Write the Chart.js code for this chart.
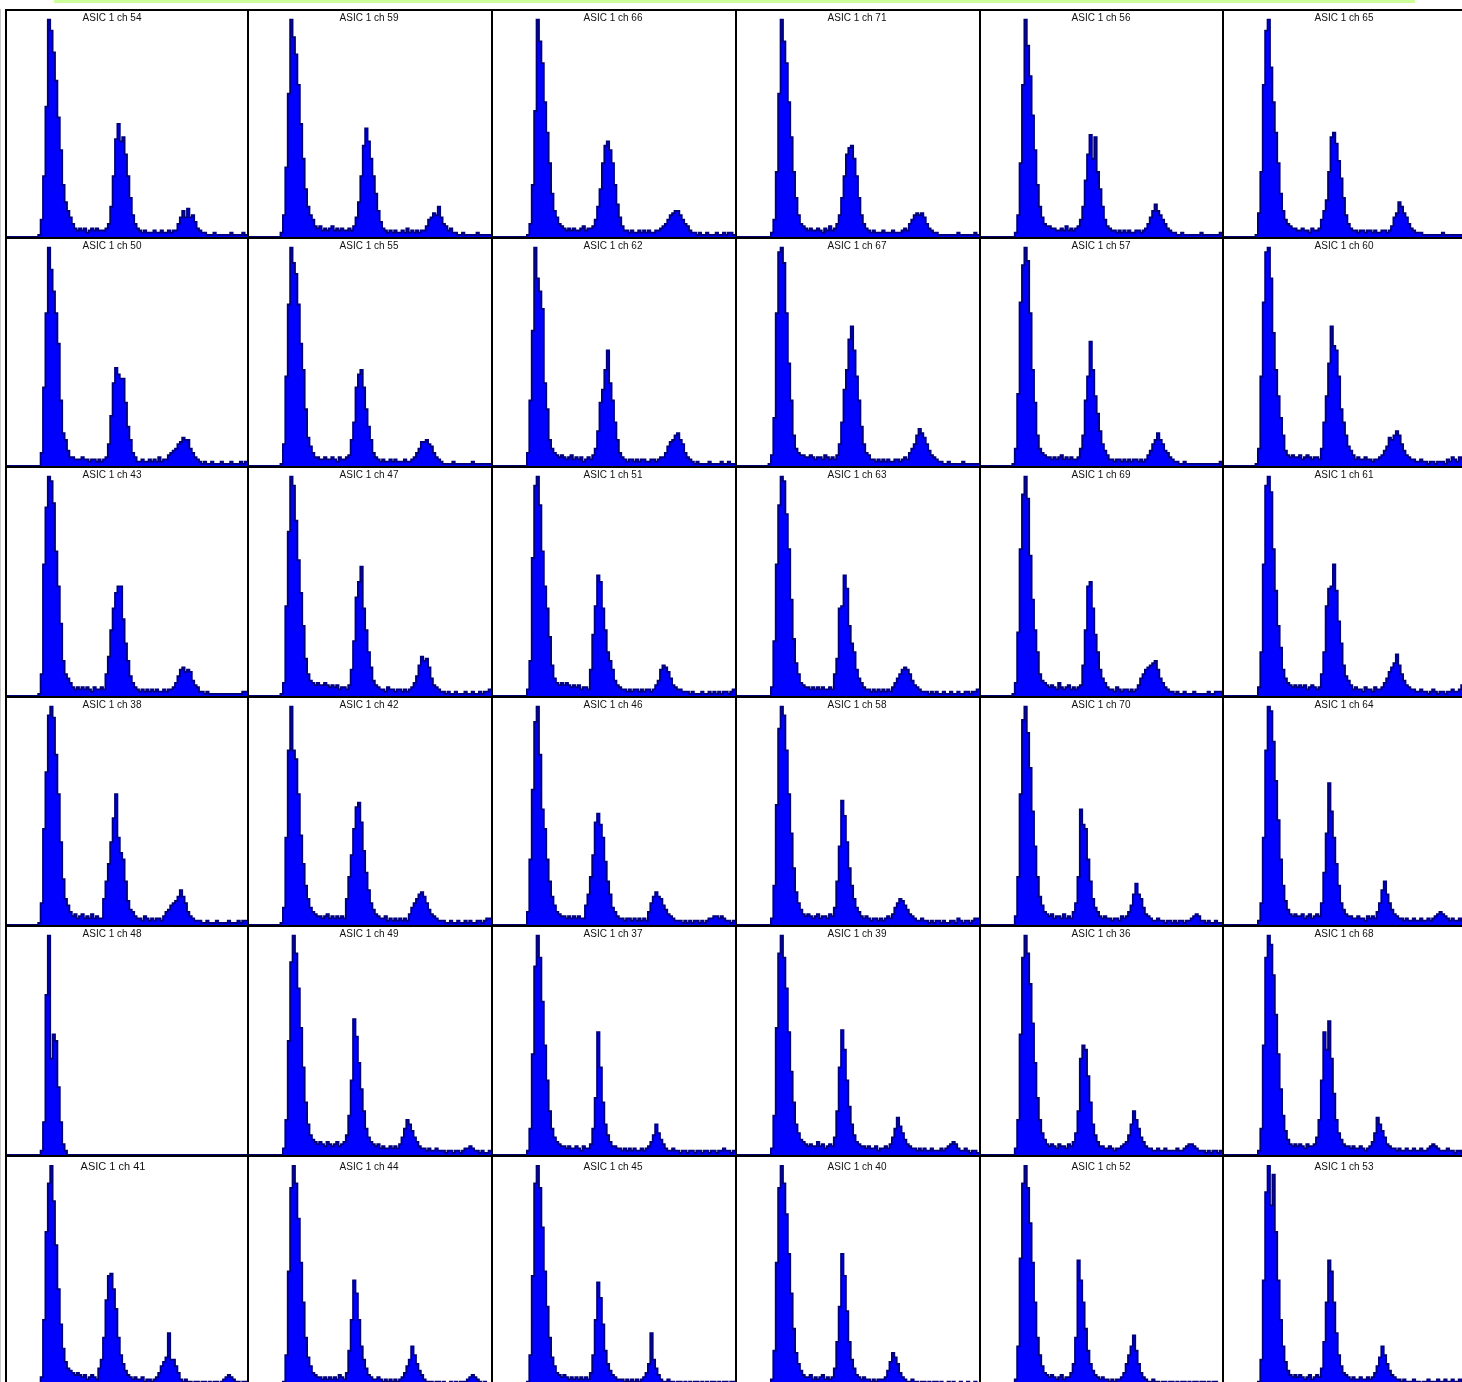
<!DOCTYPE html>
<html>
<head>
<meta charset="utf-8">
<script src="https://cdn.jsdelivr.net/npm/chart.js"></script>
<style>
  body { margin: 0; background: #fff; width: 1462px; height: 1382px; overflow: hidden; position: relative; }
  .topbar { position: absolute; left: 54px; top: 0; width: 1361px; height: 3px; background: #ccff99; }
  .edge { position: absolute; left: 0; top: 9px; width: 1px; height: 1380px; background: #c8c8c8; }
  .panel { position: absolute; box-sizing: border-box; border-left: 2px solid #000; border-top: 2px solid #000; }
  .panel canvas { display: block; }
</style>
</head>
<body>
<div class="topbar"></div>
<div class="edge"></div>
<script>
// counts per bin (100 bins), normalised so the first peak is 100
const ch54 = [0,0,0,0,0,0,0,0,0,0, 0,0,0,1,8,28,60,100,95,85, 72,55,40,24,16,12,9,6,4,3, 4,3,4,2,3,4,3,4,3,3, 3,4,6,14,28,45,52,44,46,38, 28,18,10,6,4,3,2,3,2,2, 2,3,2,2,3,2,2,3,2,3, 3,6,9,12,9,13,9,10,7,4, 3,2,2,1,1,1,2,1,1,1, 1,1,1,2,1,1,1,1,2,1];
const ch59 = [0,0,0,0,0,0,0,0,0,0, 0,0,0,2,10,32,66,100,92,84, 70,52,36,22,14,10,8,5,4,5, 3,4,3,4,5,3,4,3,4,3, 3,4,3,5,9,16,28,42,50,44, 36,28,20,12,7,4,3,2,3,2, 3,2,2,3,2,4,2,3,2,3, 2,3,3,5,8,9,11,10,14,9, 6,5,3,4,2,2,1,1,2,1, 1,1,1,1,2,1,1,1,1,1];
const ch66 = [0,0,0,0,0,0,0,0,0,0, 0,0,0,0,1,6,24,58,100,90, 80,62,48,34,20,12,9,6,5,4, 3,4,3,4,3,3,4,5,3,4, 4,5,8,14,22,34,42,44,40,34, 24,15,9,5,3,3,2,3,2,2, 3,2,3,2,3,2,2,3,3,4, 5,6,8,10,11,12,12,10,8,6, 5,3,2,2,1,2,1,1,2,1, 1,1,2,1,1,2,1,2,2,1];
const ch71 = [0,0,0,0,0,0,0,0,0,0, 0,0,0,0,2,8,30,66,100,90, 80,62,46,30,18,10,6,5,4,3, 4,3,3,4,3,2,4,3,5,3, 4,6,10,18,28,38,41,42,36,28, 18,10,6,4,3,2,3,2,2,2, 3,2,2,2,3,2,2,2,3,4, 3,6,8,10,11,10,11,9,6,4, 3,2,2,1,1,1,1,1,1,1, 1,2,1,1,1,1,1,1,2,1];
const ch56 = [0,0,0,0,0,0,0,0,0,0, 0,0,0,0,2,10,34,70,100,88, 74,56,40,24,14,9,6,5,5,4, 4,3,3,4,3,5,3,4,3,4, 5,8,14,26,38,47,36,46,30,22, 14,8,5,4,3,3,2,3,2,3, 2,3,2,2,3,3,2,3,4,6, 9,12,15,12,10,8,6,4,3,2, 2,1,1,2,1,1,1,1,1,1, 1,2,1,1,1,1,1,1,1,2];
const ch65 = [0,0,0,0,0,0,0,0,0,0, 0,0,0,1,11,30,70,95,100,78, 62,48,34,20,12,8,6,5,4,4, 3,3,4,3,3,2,4,3,3,4, 8,12,17,30,46,48,43,35,27,18, 10,6,4,3,3,2,3,3,2,3, 3,2,3,2,2,3,3,2,3,5, 9,11,16,14,11,9,6,4,3,2, 2,2,1,1,1,1,1,1,1,1, 2,1,1,1,1,1,1,1,1,1];

const ch50 = [0,0,0,0,0,0,0,0,0,0, 0,0,0,0,6,36,70,100,90,80, 70,56,30,15,12,7,4,4,3,3, 3,4,3,3,2,3,3,2,3,2, 3,4,10,23,38,45,42,40,40,29, 18,12,6,4,2,2,3,2,2,3, 2,3,2,4,2,3,3,5,6,7, 8,10,11,13,12,12,8,6,4,3, 2,1,2,1,1,2,1,1,1,2, 1,1,1,2,1,1,1,2,1,2];
const ch55 = [0,0,0,0,0,0,0,0,0,0, 0,0,0,1,10,41,74,100,93,88, 74,56,44,26,13,9,6,4,4,3, 3,4,3,3,4,3,2,4,3,3, 4,5,12,20,36,42,44,36,26,18, 12,6,4,3,2,3,2,2,3,2, 3,2,2,2,3,2,2,3,4,6, 8,11,11,12,10,9,6,4,3,2, 1,1,1,1,2,1,1,1,1,1, 1,1,2,1,1,1,1,1,1,1];
const ch62 = [0,0,0,0,0,0,0,0,0,0, 0,0,0,0,6,30,62,100,86,80, 72,38,26,12,8,6,5,4,5,4, 3,4,5,3,4,3,4,2,3,4, 3,5,8,16,29,35,44,53,38,30, 20,12,6,4,3,2,3,3,2,3, 2,3,3,2,2,3,3,2,3,4, 4,6,9,11,12,14,15,12,10,6, 4,3,2,1,2,1,1,1,1,2, 1,1,1,1,2,1,1,2,1,1];
const ch67 = [0,0,0,0,0,0,0,0,0,0, 0,0,0,1,5,22,70,98,100,93, 70,47,30,14,8,6,5,5,4,4, 5,4,3,4,4,3,5,4,3,4, 3,5,10,20,35,44,58,64,53,41, 30,18,10,6,5,3,3,2,3,2, 3,2,3,2,2,3,3,2,3,4, 3,6,8,10,14,17,15,13,10,7, 5,4,3,2,2,1,1,2,1,1, 1,1,1,2,1,1,1,1,1,1];
const ch57 = [0,0,0,0,0,0,0,0,0,0, 0,0,0,1,8,33,75,92,100,94, 70,44,29,14,8,6,5,4,4,3, 4,3,4,5,3,4,3,4,3,3, 4,8,14,30,41,57,44,32,24,16, 10,7,5,3,3,2,3,3,2,3, 2,3,2,3,3,2,3,2,3,5, 7,10,12,15,12,10,7,6,4,3, 2,2,1,1,2,1,1,1,1,1, 1,1,1,1,1,1,1,1,1,2];
const ch60 = [0,0,0,0,0,0,0,0,0,0, 0,0,0,1,8,41,75,98,100,86, 61,44,32,22,14,7,5,4,5,4, 4,5,3,4,5,4,3,4,4,3, 8,20,32,47,64,55,53,41,26,20, 14,9,7,5,3,4,3,3,4,3, 3,2,3,3,4,5,7,9,13,12, 14,16,14,10,7,5,4,3,3,2, 2,3,2,2,1,2,2,1,2,2, 2,1,3,2,4,3,2,4,3,4];

const ch43 = [0,0,0,0,0,0,0,0,0,0, 0,0,0,1,10,60,86,100,98,88, 66,50,33,16,10,8,6,4,3,4, 3,4,3,4,3,2,4,3,3,4, 3,10,18,30,40,47,50,50,35,24, 16,9,6,4,3,2,3,2,3,2, 3,2,3,2,2,3,2,3,3,4, 6,9,12,13,11,12,11,7,5,4, 2,2,1,2,1,1,1,1,1,1, 1,1,1,1,1,1,1,1,2,2];
const ch47 = [0,0,0,0,0,0,0,0,0,0, 0,0,0,1,6,41,75,100,96,80, 62,47,32,17,10,7,6,5,6,5, 5,6,5,4,5,4,5,3,4,4, 3,5,12,25,45,52,59,40,30,20, 13,7,5,4,3,3,2,4,3,3, 2,3,3,2,3,2,3,4,6,9, 14,18,16,17,13,8,5,4,3,2, 2,1,2,1,1,2,1,1,1,2, 1,1,2,1,1,2,1,2,2,3];
const ch51 = [0,0,0,0,0,0,0,0,0,0, 0,0,0,0,3,16,63,96,100,87, 66,50,40,27,14,8,6,5,6,5, 6,5,4,5,4,5,3,4,4,3, 12,28,41,55,52,40,30,20,16,12, 7,5,4,3,3,2,3,2,3,3, 2,3,2,3,3,2,3,5,7,12, 14,13,11,8,5,4,3,3,2,2, 2,1,2,1,1,1,2,1,1,2, 1,2,1,2,1,2,2,1,2,3];
const ch63 = [0,0,0,0,0,0,0,0,0,0, 0,0,0,0,4,25,60,87,100,98, 83,67,44,26,15,10,6,5,4,4, 3,4,3,4,3,4,3,3,4,3, 10,17,40,41,55,49,32,24,20,12, 8,6,4,3,3,2,3,2,3,2, 3,2,3,2,4,6,8,10,12,13, 12,10,7,5,4,3,2,2,2,1, 2,1,2,1,1,2,1,1,2,1, 1,2,1,1,2,2,1,2,2,3];
const ch69 = [0,0,0,0,0,0,0,0,0,0, 0,0,0,1,6,29,67,92,100,90, 64,44,30,20,10,7,6,5,4,5, 4,3,6,4,3,4,5,3,4,3, 4,5,14,30,50,52,40,28,20,12, 8,6,4,3,3,2,4,3,2,3, 3,2,3,2,3,5,8,10,12,13, 14,15,16,12,8,6,4,3,2,2, 1,2,1,1,2,1,1,1,2,1, 1,1,1,1,2,1,1,2,2,2];
const ch61 = [0,0,0,0,0,0,0,0,0,0, 0,0,0,0,4,20,60,96,100,93, 67,48,32,22,12,8,6,5,4,5, 4,5,4,5,3,4,5,4,3,4, 10,20,41,49,50,60,48,34,24,14, 9,7,5,3,4,3,3,2,4,3, 3,2,4,3,3,4,6,8,11,13, 15,19,14,10,7,5,4,3,3,2, 2,3,2,2,1,2,3,2,1,2, 2,1,2,2,3,2,2,3,5,6];

const ch38 = [0,0,0,0,0,0,0,0,0,0, 0,0,0,1,10,44,70,96,100,95, 78,60,38,21,12,9,6,4,5,3, 4,5,3,4,3,5,3,4,3,3, 12,20,28,38,49,60,40,33,30,20, 11,7,6,4,3,3,2,4,3,2, 3,2,3,3,2,4,6,7,9,10, 11,13,16,13,10,6,4,3,2,2, 2,1,1,2,1,1,1,2,1,1, 1,1,2,1,1,1,2,1,2,2];
const ch42 = [0,0,0,0,0,0,0,0,0,0, 0,0,0,1,8,40,80,100,80,76, 60,41,28,18,12,8,6,5,4,4, 3,4,5,3,4,3,4,3,4,3, 12,22,32,44,54,56,47,34,24,16, 10,7,5,4,3,3,4,2,3,2, 3,2,3,2,3,2,5,8,10,12, 14,15,13,10,7,5,4,3,2,2, 2,1,1,2,1,1,2,1,1,2, 1,2,1,1,2,2,1,2,3,3];
const ch46 = [0,0,0,0,0,0,0,0,0,0, 0,0,0,0,6,30,62,93,100,78, 53,44,30,20,13,9,6,5,4,4, 3,4,3,4,3,4,3,3,9,14, 22,32,47,51,46,40,29,20,14,8, 6,4,3,3,2,3,3,2,3,2, 3,2,3,2,6,10,13,15,13,12, 9,7,5,4,3,2,2,2,1,2, 1,2,1,2,2,1,2,1,2,3, 3,4,4,3,4,3,2,2,1,2];
const ch58 = [0,0,0,0,0,0,0,0,0,0, 0,0,0,0,3,18,55,90,100,96, 80,60,42,26,15,10,7,5,4,5, 4,3,4,5,3,4,4,3,5,4, 8,20,36,57,50,38,26,18,12,8, 6,4,3,4,3,2,3,3,2,3, 2,3,4,3,5,8,10,12,11,9, 7,5,4,3,2,2,3,2,2,1, 2,1,2,2,1,2,1,1,2,2, 1,3,2,1,2,2,1,2,3,3];
const ch70 = [0,0,0,0,0,0,0,0,0,0, 0,0,0,0,4,22,60,94,100,88, 72,52,36,22,13,9,6,5,4,5, 3,4,4,3,5,3,4,3,6,10, 22,53,46,44,30,20,12,8,6,4, 3,4,3,3,2,3,3,2,4,3, 4,6,9,14,19,14,12,8,5,4, 3,2,2,3,2,2,1,2,2,1, 2,1,2,2,1,2,2,3,4,5, 4,2,2,1,2,1,1,2,1,1];
const ch64 = [0,0,0,0,0,0,0,0,0,0, 0,0,0,0,2,10,40,80,100,98, 84,66,48,30,18,11,7,5,4,5, 4,4,5,3,4,5,3,4,5,4, 10,24,42,65,52,40,28,18,10,7, 5,4,4,3,3,4,3,3,2,4, 3,4,3,6,10,16,20,14,10,7, 5,4,3,3,2,3,2,2,3,2, 2,3,2,2,3,2,3,4,5,6, 5,4,3,2,3,2,2,3,2,2];

const ch48 = [0,0,0,0,0,0,0,0,0,0, 0,0,0,0,2,15,73,100,44,55, 52,31,15,5,2,0,0,0,0,0, 0,0,0,0,0,0,0,0,0,0, 0,0,0,0,0,0,0,0,0,0, 0,0,0,0,0,0,0,0,0,0, 0,0,0,0,0,0,0,0,0,0, 0,0,0,0,0,0,0,0,0,0, 0,0,0,0,0,0,0,0,0,0, 0,0,0,0,0,0,0,0,0,0];
const ch49 = [0,0,0,0,0,0,0,0,0,0, 0,0,0,0,3,16,52,88,100,92, 76,58,40,24,14,9,7,6,5,6, 5,4,6,5,4,5,6,4,5,6, 9,18,34,62,54,42,30,20,12,8, 6,5,4,5,3,4,3,3,4,3, 4,3,5,8,12,16,14,11,8,6, 4,3,3,2,3,2,2,3,2,2, 2,1,2,2,1,2,2,1,2,3, 3,4,3,2,2,1,2,1,1,2];
const ch37 = [0,0,0,0,0,0,0,0,0,0, 0,0,0,0,2,12,46,86,100,90, 70,50,34,20,12,8,6,5,4,4, 3,4,3,3,4,3,2,4,3,3, 5,12,26,56,40,24,14,9,6,4, 4,3,3,2,3,2,3,2,3,2, 2,3,2,3,4,6,9,14,10,7, 5,3,2,2,3,2,2,1,2,2, 1,2,2,1,2,2,1,2,2,1, 2,2,1,2,2,3,2,2,1,2];
const ch39 = [0,0,0,0,0,0,0,0,0,0, 0,0,0,0,3,18,58,92,100,90, 76,56,38,24,14,10,7,6,5,4, 5,4,4,6,4,5,3,4,5,4, 8,20,40,57,48,34,22,14,9,6, 5,4,4,3,4,3,3,4,2,3, 3,4,3,5,8,12,17,13,10,7, 5,4,3,3,2,3,2,3,2,2, 3,2,2,2,3,2,3,4,5,6, 5,3,2,2,3,2,1,2,2,1];
const ch36 = [0,0,0,0,0,0,0,0,0,0, 0,0,0,0,3,16,55,90,100,92, 78,60,42,26,16,10,7,5,4,5, 4,3,5,4,4,3,5,4,6,10, 20,44,50,48,36,24,14,9,6,4, 4,3,3,4,3,2,3,3,4,5, 6,9,14,20,16,12,8,6,4,3, 3,2,2,3,2,2,3,2,2,2, 2,3,2,2,3,4,5,5,4,3, 2,2,2,1,2,1,2,2,1,2];
const ch68 = [0,0,0,0,0,0,0,0,0,0, 0,0,0,0,2,12,50,90,100,96, 82,64,46,30,18,11,7,5,4,5, 4,5,4,3,5,4,4,5,8,16, 34,56,48,61,44,28,16,10,7,5, 4,4,3,4,3,3,4,3,2,3, 4,6,10,17,14,11,8,5,4,3, 3,2,3,2,2,3,2,2,3,2, 2,3,2,2,3,4,5,4,3,2, 2,2,3,2,2,1,2,2,1,2];

const ch41 = [0,0,0,0,0,0,0,0,0,0, 0,0,0,0,4,30,70,92,100,84, 64,44,28,17,11,8,7,6,5,6, 5,4,5,3,4,5,4,3,8,12, 22,39,50,51,44,35,22,14,10,7, 5,4,3,4,3,3,4,2,3,3, 2,3,4,6,9,11,13,24,12,12, 9,6,3,2,3,2,2,1,2,2, 1,2,2,1,2,1,2,2,1,2, 3,4,5,4,3,2,2,1,2,2];
const ch44 = [0,0,0,0,0,0,0,0,0,0, 0,0,0,0,2,14,52,90,100,92, 76,56,38,22,13,9,6,5,4,4, 3,4,3,4,3,4,3,5,4,3, 6,16,30,48,42,30,18,12,8,5, 4,3,3,4,3,2,3,2,3,2, 3,2,3,4,6,9,12,18,14,10, 7,5,3,2,2,2,1,2,2,1, 2,1,1,2,1,2,1,2,2,2, 3,4,5,4,3,2,1,2,1,1];
const ch45 = [0,0,0,0,0,0,0,0,0,0, 0,0,0,0,2,14,50,92,100,90, 72,52,36,22,13,9,6,5,4,5, 4,3,4,3,4,3,4,3,4,3, 6,14,30,47,40,28,16,10,7,5, 4,3,3,3,2,3,2,3,2,3, 2,3,4,6,10,24,12,8,5,3, 2,2,3,2,2,1,2,2,1,2, 1,2,1,2,2,1,2,1,2,1, 2,2,1,2,1,2,2,1,2,2];
const ch40 = [0,0,0,0,0,0,0,0,0,0, 0,0,0,0,3,16,56,90,100,92, 78,60,42,26,15,10,7,5,4,4, 5,3,4,3,4,5,3,4,3,4, 8,20,36,60,50,34,20,12,8,5, 4,3,4,3,3,2,3,2,3,3, 3,4,7,11,15,13,10,6,4,3, 2,2,3,2,2,1,2,2,1,2, 1,2,2,1,2,1,1,2,1,2, 1,1,2,1,1,2,1,1,2,1];
const ch52 = [0,0,0,0,0,0,0,0,0,0, 0,0,0,0,3,18,58,92,100,90, 74,56,38,22,14,9,6,5,4,5, 4,3,4,5,3,4,4,6,10,22, 57,48,38,26,16,10,7,5,4,3, 4,3,3,2,3,2,3,3,4,6, 10,14,18,23,16,10,6,4,3,2, 2,3,2,2,1,2,2,1,2,2, 1,2,1,2,2,1,2,1,2,2, 1,2,2,1,2,1,2,2,1,1];
const ch53 = [0,0,0,0,0,0,0,0,0,0, 0,0,0,0,2,12,48,88,100,82, 96,70,48,30,18,11,7,5,4,5, 4,5,4,3,4,5,3,4,5,4, 8,20,38,57,52,38,24,14,9,6, 5,4,3,4,3,3,4,3,3,4, 3,4,6,9,13,18,14,10,7,5, 4,3,3,2,3,2,2,2,3,2, 2,1,2,2,3,2,2,2,3,2, 2,3,2,2,3,2,2,3,2,2];

// channel numbers shown in the panel titles, row by row
const channels = [
  [54, 59, 66, 71, 56, 65],
  [50, 55, 62, 67, 57, 60],
  [43, 47, 51, 63, 69, 61],
  [38, 42, 46, 58, 70, 64],
  [48, 49, 37, 39, 36, 68],
  [41, 44, 45, 40, 52, 53],
];
const panelCounts = [
  [ch54, ch59, ch66, ch71, ch56, ch65],
  [ch50, ch55, ch62, ch67, ch57, ch60],
  [ch43, ch47, ch51, ch63, ch69, ch61],
  [ch38, ch42, ch46, ch58, ch70, ch64],
  [ch48, ch49, ch37, ch39, ch36, ch68],
  [ch41, ch44, ch45, ch40, ch52, ch53],
];
const nBins = 100;
const yMax = 104;

// grid layout (px)
const colLeft = [5, 247, 491, 735, 979, 1222, 1466];
const rowTop = [9, 237, 466, 696, 925, 1155, 1386];
const titleBaseline = [9.5, 9.5, 9.5, 9.5, 9.5, 12.5];

const titlePlugin = {
  id: "panelTitle",
  afterDatasetsDraw(chart, args, opts) {
    const ctx = chart.ctx;
    ctx.save();
    ctx.font = opts.size + 'px "Liberation Sans", Arial, sans-serif';
    ctx.fillStyle = "#111";
    ctx.textAlign = "center";
    ctx.textBaseline = "alphabetic";
    ctx.fillText(opts.text, opts.x, opts.y);
    ctx.restore();
  },
};

function toPoints(counts) {
  const pts = counts.map((v, i) => ({ x: i, y: v }));
  pts.push({ x: counts.length, y: counts[counts.length - 1] });
  return pts;
}

for (let r = 0; r < 6; r++) {
  for (let c = 0; c < 6; c++) {
    const w = colLeft[c + 1] - colLeft[c];
    const h = rowTop[r + 1] - rowTop[r];
    const panel = document.createElement("div");
    panel.className = "panel";
    panel.style.left = colLeft[c] + "px";
    panel.style.top = rowTop[r] + "px";
    panel.style.width = w + "px";
    panel.style.height = h + "px";
    const canvas = document.createElement("canvas");
    canvas.width = w - 2;
    canvas.height = h - 2;
    panel.appendChild(canvas);
    document.body.appendChild(panel);

    const big = r === 5 && c === 0;
    const titleX = c === 0 ? (big ? 106 : 105) : 120;

    new Chart(canvas, {
      type: "line",
      data: {
        datasets: [
          {
            data: toPoints(panelCounts[r][c]),
            stepped: true,
            fill: "origin",
            backgroundColor: "#0000ff",
            borderColor: "#00007a",
            borderWidth: 1.8,
            pointRadius: 0,
          },
        ],
      },
      options: {
        responsive: false,
        animation: false,
        events: [],
        layout: { padding: 0 },
        scales: {
          x: { type: "linear", min: 0, max: nBins, display: false },
          y: { min: 0, max: yMax, display: false },
        },
        plugins: {
          legend: { display: false },
          tooltip: { enabled: false },
          panelTitle: {
            text: "ASIC 1 ch " + channels[r][c],
            x: titleX,
            y: big ? 13 : titleBaseline[r],
            size: big ? 11 : 10,
          },
        },
      },
      plugins: [titlePlugin],
    });
  }
}
</script>
</body>
</html>
